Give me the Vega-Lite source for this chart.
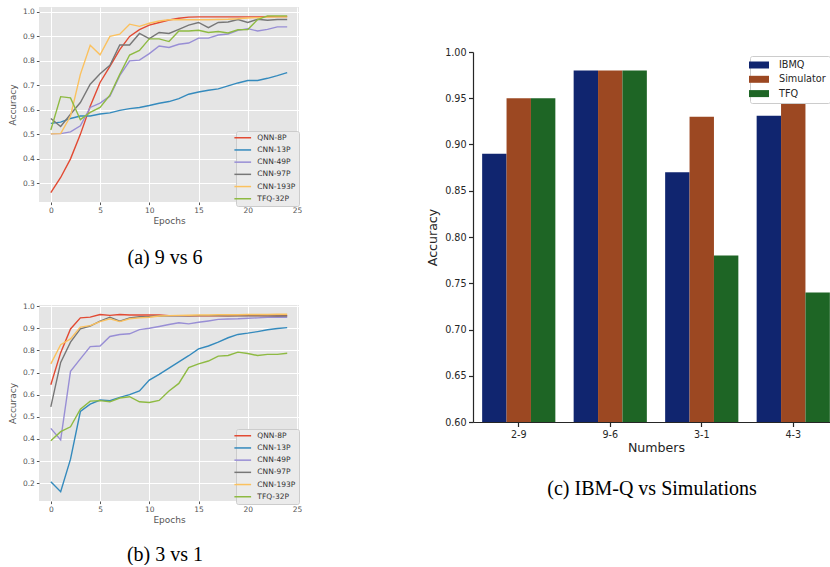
{
  "$schema": "https://vega.github.io/schema/vega-lite/v6.json",
  "background": "white",
  "padding": {"left": 8, "top": 7, "right": -7, "bottom": 0},
  "config": {
    "font": "DejaVu Sans",
    "title": {"font": "Liberation Serif", "fontSize": 20, "fontWeight": "normal", "color": "#000000", "orient": "bottom", "anchor": "middle"}
  },
  "datasets": {
    "a": [
      {"Model":"QNN-8P","Epoch":0,"Accuracy":0.262},{"Model":"QNN-8P","Epoch":1,"Accuracy":0.324},{"Model":"QNN-8P","Epoch":2,"Accuracy":0.40},{"Model":"QNN-8P","Epoch":3,"Accuracy":0.50},{"Model":"QNN-8P","Epoch":4,"Accuracy":0.615},{"Model":"QNN-8P","Epoch":5,"Accuracy":0.712},{"Model":"QNN-8P","Epoch":6,"Accuracy":0.778},{"Model":"QNN-8P","Epoch":7,"Accuracy":0.846},{"Model":"QNN-8P","Epoch":8,"Accuracy":0.90},{"Model":"QNN-8P","Epoch":9,"Accuracy":0.928},{"Model":"QNN-8P","Epoch":10,"Accuracy":0.946},{"Model":"QNN-8P","Epoch":11,"Accuracy":0.957},{"Model":"QNN-8P","Epoch":12,"Accuracy":0.967},{"Model":"QNN-8P","Epoch":13,"Accuracy":0.974},{"Model":"QNN-8P","Epoch":14,"Accuracy":0.979},{"Model":"QNN-8P","Epoch":15,"Accuracy":0.98},{"Model":"QNN-8P","Epoch":16,"Accuracy":0.98},{"Model":"QNN-8P","Epoch":17,"Accuracy":0.98},{"Model":"QNN-8P","Epoch":18,"Accuracy":0.98},{"Model":"QNN-8P","Epoch":19,"Accuracy":0.98},{"Model":"QNN-8P","Epoch":20,"Accuracy":0.98},{"Model":"QNN-8P","Epoch":21,"Accuracy":0.98},{"Model":"QNN-8P","Epoch":22,"Accuracy":0.981},{"Model":"QNN-8P","Epoch":23,"Accuracy":0.981},{"Model":"QNN-8P","Epoch":24,"Accuracy":0.981},
      {"Model":"CNN-13P","Epoch":0,"Accuracy":0.545},{"Model":"CNN-13P","Epoch":1,"Accuracy":0.55},{"Model":"CNN-13P","Epoch":2,"Accuracy":0.565},{"Model":"CNN-13P","Epoch":3,"Accuracy":0.575},{"Model":"CNN-13P","Epoch":4,"Accuracy":0.575},{"Model":"CNN-13P","Epoch":5,"Accuracy":0.583},{"Model":"CNN-13P","Epoch":6,"Accuracy":0.588},{"Model":"CNN-13P","Epoch":7,"Accuracy":0.598},{"Model":"CNN-13P","Epoch":8,"Accuracy":0.605},{"Model":"CNN-13P","Epoch":9,"Accuracy":0.61},{"Model":"CNN-13P","Epoch":10,"Accuracy":0.618},{"Model":"CNN-13P","Epoch":11,"Accuracy":0.627},{"Model":"CNN-13P","Epoch":12,"Accuracy":0.634},{"Model":"CNN-13P","Epoch":13,"Accuracy":0.646},{"Model":"CNN-13P","Epoch":14,"Accuracy":0.664},{"Model":"CNN-13P","Epoch":15,"Accuracy":0.673},{"Model":"CNN-13P","Epoch":16,"Accuracy":0.68},{"Model":"CNN-13P","Epoch":17,"Accuracy":0.686},{"Model":"CNN-13P","Epoch":18,"Accuracy":0.698},{"Model":"CNN-13P","Epoch":19,"Accuracy":0.71},{"Model":"CNN-13P","Epoch":20,"Accuracy":0.72},{"Model":"CNN-13P","Epoch":21,"Accuracy":0.72},{"Model":"CNN-13P","Epoch":22,"Accuracy":0.729},{"Model":"CNN-13P","Epoch":23,"Accuracy":0.74},{"Model":"CNN-13P","Epoch":24,"Accuracy":0.752},
      {"Model":"CNN-49P","Epoch":0,"Accuracy":0.502},{"Model":"CNN-49P","Epoch":1,"Accuracy":0.503},{"Model":"CNN-49P","Epoch":2,"Accuracy":0.51},{"Model":"CNN-49P","Epoch":3,"Accuracy":0.535},{"Model":"CNN-49P","Epoch":4,"Accuracy":0.61},{"Model":"CNN-49P","Epoch":5,"Accuracy":0.628},{"Model":"CNN-49P","Epoch":6,"Accuracy":0.656},{"Model":"CNN-49P","Epoch":7,"Accuracy":0.74},{"Model":"CNN-49P","Epoch":8,"Accuracy":0.80},{"Model":"CNN-49P","Epoch":9,"Accuracy":0.803},{"Model":"CNN-49P","Epoch":10,"Accuracy":0.83},{"Model":"CNN-49P","Epoch":11,"Accuracy":0.861},{"Model":"CNN-49P","Epoch":12,"Accuracy":0.855},{"Model":"CNN-49P","Epoch":13,"Accuracy":0.868},{"Model":"CNN-49P","Epoch":14,"Accuracy":0.873},{"Model":"CNN-49P","Epoch":15,"Accuracy":0.893},{"Model":"CNN-49P","Epoch":16,"Accuracy":0.893},{"Model":"CNN-49P","Epoch":17,"Accuracy":0.906},{"Model":"CNN-49P","Epoch":18,"Accuracy":0.91},{"Model":"CNN-49P","Epoch":19,"Accuracy":0.925},{"Model":"CNN-49P","Epoch":20,"Accuracy":0.932},{"Model":"CNN-49P","Epoch":21,"Accuracy":0.922},{"Model":"CNN-49P","Epoch":22,"Accuracy":0.929},{"Model":"CNN-49P","Epoch":23,"Accuracy":0.939},{"Model":"CNN-49P","Epoch":24,"Accuracy":0.939},
      {"Model":"CNN-97P","Epoch":0,"Accuracy":0.565},{"Model":"CNN-97P","Epoch":1,"Accuracy":0.532},{"Model":"CNN-97P","Epoch":2,"Accuracy":0.582},{"Model":"CNN-97P","Epoch":3,"Accuracy":0.63},{"Model":"CNN-97P","Epoch":4,"Accuracy":0.705},{"Model":"CNN-97P","Epoch":5,"Accuracy":0.748},{"Model":"CNN-97P","Epoch":6,"Accuracy":0.782},{"Model":"CNN-97P","Epoch":7,"Accuracy":0.865},{"Model":"CNN-97P","Epoch":8,"Accuracy":0.865},{"Model":"CNN-97P","Epoch":9,"Accuracy":0.912},{"Model":"CNN-97P","Epoch":10,"Accuracy":0.891},{"Model":"CNN-97P","Epoch":11,"Accuracy":0.916},{"Model":"CNN-97P","Epoch":12,"Accuracy":0.912},{"Model":"CNN-97P","Epoch":13,"Accuracy":0.929},{"Model":"CNN-97P","Epoch":14,"Accuracy":0.946},{"Model":"CNN-97P","Epoch":15,"Accuracy":0.957},{"Model":"CNN-97P","Epoch":16,"Accuracy":0.936},{"Model":"CNN-97P","Epoch":17,"Accuracy":0.957},{"Model":"CNN-97P","Epoch":18,"Accuracy":0.959},{"Model":"CNN-97P","Epoch":19,"Accuracy":0.969},{"Model":"CNN-97P","Epoch":20,"Accuracy":0.957},{"Model":"CNN-97P","Epoch":21,"Accuracy":0.97},{"Model":"CNN-97P","Epoch":22,"Accuracy":0.966},{"Model":"CNN-97P","Epoch":23,"Accuracy":0.969},{"Model":"CNN-97P","Epoch":24,"Accuracy":0.969},
      {"Model":"CNN-193P","Epoch":0,"Accuracy":0.502},{"Model":"CNN-193P","Epoch":1,"Accuracy":0.503},{"Model":"CNN-193P","Epoch":2,"Accuracy":0.575},{"Model":"CNN-193P","Epoch":3,"Accuracy":0.745},{"Model":"CNN-193P","Epoch":4,"Accuracy":0.864},{"Model":"CNN-193P","Epoch":5,"Accuracy":0.825},{"Model":"CNN-193P","Epoch":6,"Accuracy":0.90},{"Model":"CNN-193P","Epoch":7,"Accuracy":0.909},{"Model":"CNN-193P","Epoch":8,"Accuracy":0.95},{"Model":"CNN-193P","Epoch":9,"Accuracy":0.941},{"Model":"CNN-193P","Epoch":10,"Accuracy":0.954},{"Model":"CNN-193P","Epoch":11,"Accuracy":0.963},{"Model":"CNN-193P","Epoch":12,"Accuracy":0.968},{"Model":"CNN-193P","Epoch":13,"Accuracy":0.968},{"Model":"CNN-193P","Epoch":14,"Accuracy":0.968},{"Model":"CNN-193P","Epoch":15,"Accuracy":0.968},{"Model":"CNN-193P","Epoch":16,"Accuracy":0.968},{"Model":"CNN-193P","Epoch":17,"Accuracy":0.969},{"Model":"CNN-193P","Epoch":18,"Accuracy":0.97},{"Model":"CNN-193P","Epoch":19,"Accuracy":0.972},{"Model":"CNN-193P","Epoch":20,"Accuracy":0.975},{"Model":"CNN-193P","Epoch":21,"Accuracy":0.977},{"Model":"CNN-193P","Epoch":22,"Accuracy":0.979},{"Model":"CNN-193P","Epoch":23,"Accuracy":0.98},{"Model":"CNN-193P","Epoch":24,"Accuracy":0.98},
      {"Model":"TFQ-32P","Epoch":0,"Accuracy":0.518},{"Model":"TFQ-32P","Epoch":1,"Accuracy":0.654},{"Model":"TFQ-32P","Epoch":2,"Accuracy":0.649},{"Model":"TFQ-32P","Epoch":3,"Accuracy":0.56},{"Model":"TFQ-32P","Epoch":4,"Accuracy":0.59},{"Model":"TFQ-32P","Epoch":5,"Accuracy":0.61},{"Model":"TFQ-32P","Epoch":6,"Accuracy":0.66},{"Model":"TFQ-32P","Epoch":7,"Accuracy":0.745},{"Model":"TFQ-32P","Epoch":8,"Accuracy":0.824},{"Model":"TFQ-32P","Epoch":9,"Accuracy":0.843},{"Model":"TFQ-32P","Epoch":10,"Accuracy":0.89},{"Model":"TFQ-32P","Epoch":11,"Accuracy":0.89},{"Model":"TFQ-32P","Epoch":12,"Accuracy":0.879},{"Model":"TFQ-32P","Epoch":13,"Accuracy":0.922},{"Model":"TFQ-32P","Epoch":14,"Accuracy":0.922},{"Model":"TFQ-32P","Epoch":15,"Accuracy":0.925},{"Model":"TFQ-32P","Epoch":16,"Accuracy":0.916},{"Model":"TFQ-32P","Epoch":17,"Accuracy":0.92},{"Model":"TFQ-32P","Epoch":18,"Accuracy":0.914},{"Model":"TFQ-32P","Epoch":19,"Accuracy":0.927},{"Model":"TFQ-32P","Epoch":20,"Accuracy":0.928},{"Model":"TFQ-32P","Epoch":21,"Accuracy":0.969},{"Model":"TFQ-32P","Epoch":22,"Accuracy":0.984},{"Model":"TFQ-32P","Epoch":23,"Accuracy":0.984},{"Model":"TFQ-32P","Epoch":24,"Accuracy":0.984}
    ],
    "b": [
      {"Model":"QNN-8P","Epoch":0,"Accuracy":0.645},{"Model":"QNN-8P","Epoch":1,"Accuracy":0.79},{"Model":"QNN-8P","Epoch":2,"Accuracy":0.897},{"Model":"QNN-8P","Epoch":3,"Accuracy":0.947},{"Model":"QNN-8P","Epoch":4,"Accuracy":0.95},{"Model":"QNN-8P","Epoch":5,"Accuracy":0.962},{"Model":"QNN-8P","Epoch":6,"Accuracy":0.958},{"Model":"QNN-8P","Epoch":7,"Accuracy":0.962},{"Model":"QNN-8P","Epoch":8,"Accuracy":0.96},{"Model":"QNN-8P","Epoch":9,"Accuracy":0.96},{"Model":"QNN-8P","Epoch":10,"Accuracy":0.96},{"Model":"QNN-8P","Epoch":11,"Accuracy":0.96},{"Model":"QNN-8P","Epoch":12,"Accuracy":0.957},{"Model":"QNN-8P","Epoch":13,"Accuracy":0.957},{"Model":"QNN-8P","Epoch":14,"Accuracy":0.956},{"Model":"QNN-8P","Epoch":15,"Accuracy":0.956},{"Model":"QNN-8P","Epoch":16,"Accuracy":0.956},{"Model":"QNN-8P","Epoch":17,"Accuracy":0.956},{"Model":"QNN-8P","Epoch":18,"Accuracy":0.956},{"Model":"QNN-8P","Epoch":19,"Accuracy":0.957},{"Model":"QNN-8P","Epoch":20,"Accuracy":0.957},{"Model":"QNN-8P","Epoch":21,"Accuracy":0.957},{"Model":"QNN-8P","Epoch":22,"Accuracy":0.956},{"Model":"QNN-8P","Epoch":23,"Accuracy":0.955},{"Model":"QNN-8P","Epoch":24,"Accuracy":0.957},
      {"Model":"CNN-13P","Epoch":0,"Accuracy":0.207},{"Model":"CNN-13P","Epoch":1,"Accuracy":0.162},{"Model":"CNN-13P","Epoch":2,"Accuracy":0.309},{"Model":"CNN-13P","Epoch":3,"Accuracy":0.524},{"Model":"CNN-13P","Epoch":4,"Accuracy":0.557},{"Model":"CNN-13P","Epoch":5,"Accuracy":0.576},{"Model":"CNN-13P","Epoch":6,"Accuracy":0.573},{"Model":"CNN-13P","Epoch":7,"Accuracy":0.588},{"Model":"CNN-13P","Epoch":8,"Accuracy":0.60},{"Model":"CNN-13P","Epoch":9,"Accuracy":0.617},{"Model":"CNN-13P","Epoch":10,"Accuracy":0.666},{"Model":"CNN-13P","Epoch":11,"Accuracy":0.692},{"Model":"CNN-13P","Epoch":12,"Accuracy":0.72},{"Model":"CNN-13P","Epoch":13,"Accuracy":0.748},{"Model":"CNN-13P","Epoch":14,"Accuracy":0.776},{"Model":"CNN-13P","Epoch":15,"Accuracy":0.807},{"Model":"CNN-13P","Epoch":16,"Accuracy":0.82},{"Model":"CNN-13P","Epoch":17,"Accuracy":0.837},{"Model":"CNN-13P","Epoch":18,"Accuracy":0.857},{"Model":"CNN-13P","Epoch":19,"Accuracy":0.872},{"Model":"CNN-13P","Epoch":20,"Accuracy":0.878},{"Model":"CNN-13P","Epoch":21,"Accuracy":0.885},{"Model":"CNN-13P","Epoch":22,"Accuracy":0.893},{"Model":"CNN-13P","Epoch":23,"Accuracy":0.899},{"Model":"CNN-13P","Epoch":24,"Accuracy":0.903},
      {"Model":"CNN-49P","Epoch":0,"Accuracy":0.448},{"Model":"CNN-49P","Epoch":1,"Accuracy":0.396},{"Model":"CNN-49P","Epoch":2,"Accuracy":0.706},{"Model":"CNN-49P","Epoch":3,"Accuracy":0.762},{"Model":"CNN-49P","Epoch":4,"Accuracy":0.817},{"Model":"CNN-49P","Epoch":5,"Accuracy":0.82},{"Model":"CNN-49P","Epoch":6,"Accuracy":0.863},{"Model":"CNN-49P","Epoch":7,"Accuracy":0.872},{"Model":"CNN-49P","Epoch":8,"Accuracy":0.875},{"Model":"CNN-49P","Epoch":9,"Accuracy":0.894},{"Model":"CNN-49P","Epoch":10,"Accuracy":0.90},{"Model":"CNN-49P","Epoch":11,"Accuracy":0.908},{"Model":"CNN-49P","Epoch":12,"Accuracy":0.917},{"Model":"CNN-49P","Epoch":13,"Accuracy":0.925},{"Model":"CNN-49P","Epoch":14,"Accuracy":0.92},{"Model":"CNN-49P","Epoch":15,"Accuracy":0.927},{"Model":"CNN-49P","Epoch":16,"Accuracy":0.933},{"Model":"CNN-49P","Epoch":17,"Accuracy":0.94},{"Model":"CNN-49P","Epoch":18,"Accuracy":0.942},{"Model":"CNN-49P","Epoch":19,"Accuracy":0.943},{"Model":"CNN-49P","Epoch":20,"Accuracy":0.945},{"Model":"CNN-49P","Epoch":21,"Accuracy":0.947},{"Model":"CNN-49P","Epoch":22,"Accuracy":0.95},{"Model":"CNN-49P","Epoch":23,"Accuracy":0.95},{"Model":"CNN-49P","Epoch":24,"Accuracy":0.95},
      {"Model":"CNN-97P","Epoch":0,"Accuracy":0.545},{"Model":"CNN-97P","Epoch":1,"Accuracy":0.746},{"Model":"CNN-97P","Epoch":2,"Accuracy":0.837},{"Model":"CNN-97P","Epoch":3,"Accuracy":0.897},{"Model":"CNN-97P","Epoch":4,"Accuracy":0.91},{"Model":"CNN-97P","Epoch":5,"Accuracy":0.932},{"Model":"CNN-97P","Epoch":6,"Accuracy":0.95},{"Model":"CNN-97P","Epoch":7,"Accuracy":0.932},{"Model":"CNN-97P","Epoch":8,"Accuracy":0.947},{"Model":"CNN-97P","Epoch":9,"Accuracy":0.952},{"Model":"CNN-97P","Epoch":10,"Accuracy":0.953},{"Model":"CNN-97P","Epoch":11,"Accuracy":0.955},{"Model":"CNN-97P","Epoch":12,"Accuracy":0.956},{"Model":"CNN-97P","Epoch":13,"Accuracy":0.956},{"Model":"CNN-97P","Epoch":14,"Accuracy":0.956},{"Model":"CNN-97P","Epoch":15,"Accuracy":0.957},{"Model":"CNN-97P","Epoch":16,"Accuracy":0.957},{"Model":"CNN-97P","Epoch":17,"Accuracy":0.957},{"Model":"CNN-97P","Epoch":18,"Accuracy":0.956},{"Model":"CNN-97P","Epoch":19,"Accuracy":0.956},{"Model":"CNN-97P","Epoch":20,"Accuracy":0.956},{"Model":"CNN-97P","Epoch":21,"Accuracy":0.956},{"Model":"CNN-97P","Epoch":22,"Accuracy":0.956},{"Model":"CNN-97P","Epoch":23,"Accuracy":0.955},{"Model":"CNN-97P","Epoch":24,"Accuracy":0.955},
      {"Model":"CNN-193P","Epoch":0,"Accuracy":0.739},{"Model":"CNN-193P","Epoch":1,"Accuracy":0.826},{"Model":"CNN-193P","Epoch":2,"Accuracy":0.852},{"Model":"CNN-193P","Epoch":3,"Accuracy":0.905},{"Model":"CNN-193P","Epoch":4,"Accuracy":0.912},{"Model":"CNN-193P","Epoch":5,"Accuracy":0.93},{"Model":"CNN-193P","Epoch":6,"Accuracy":0.943},{"Model":"CNN-193P","Epoch":7,"Accuracy":0.93},{"Model":"CNN-193P","Epoch":8,"Accuracy":0.943},{"Model":"CNN-193P","Epoch":9,"Accuracy":0.947},{"Model":"CNN-193P","Epoch":10,"Accuracy":0.95},{"Model":"CNN-193P","Epoch":11,"Accuracy":0.955},{"Model":"CNN-193P","Epoch":12,"Accuracy":0.957},{"Model":"CNN-193P","Epoch":13,"Accuracy":0.958},{"Model":"CNN-193P","Epoch":14,"Accuracy":0.959},{"Model":"CNN-193P","Epoch":15,"Accuracy":0.96},{"Model":"CNN-193P","Epoch":16,"Accuracy":0.96},{"Model":"CNN-193P","Epoch":17,"Accuracy":0.961},{"Model":"CNN-193P","Epoch":18,"Accuracy":0.961},{"Model":"CNN-193P","Epoch":19,"Accuracy":0.961},{"Model":"CNN-193P","Epoch":20,"Accuracy":0.962},{"Model":"CNN-193P","Epoch":21,"Accuracy":0.962},{"Model":"CNN-193P","Epoch":22,"Accuracy":0.962},{"Model":"CNN-193P","Epoch":23,"Accuracy":0.963},{"Model":"CNN-193P","Epoch":24,"Accuracy":0.963},
      {"Model":"TFQ-32P","Epoch":0,"Accuracy":0.392},{"Model":"TFQ-32P","Epoch":1,"Accuracy":0.433},{"Model":"TFQ-32P","Epoch":2,"Accuracy":0.455},{"Model":"TFQ-32P","Epoch":3,"Accuracy":0.535},{"Model":"TFQ-32P","Epoch":4,"Accuracy":0.571},{"Model":"TFQ-32P","Epoch":5,"Accuracy":0.573},{"Model":"TFQ-32P","Epoch":6,"Accuracy":0.568},{"Model":"TFQ-32P","Epoch":7,"Accuracy":0.585},{"Model":"TFQ-32P","Epoch":8,"Accuracy":0.591},{"Model":"TFQ-32P","Epoch":9,"Accuracy":0.568},{"Model":"TFQ-32P","Epoch":10,"Accuracy":0.565},{"Model":"TFQ-32P","Epoch":11,"Accuracy":0.574},{"Model":"TFQ-32P","Epoch":12,"Accuracy":0.617},{"Model":"TFQ-32P","Epoch":13,"Accuracy":0.651},{"Model":"TFQ-32P","Epoch":14,"Accuracy":0.722},{"Model":"TFQ-32P","Epoch":15,"Accuracy":0.739},{"Model":"TFQ-32P","Epoch":16,"Accuracy":0.752},{"Model":"TFQ-32P","Epoch":17,"Accuracy":0.774},{"Model":"TFQ-32P","Epoch":18,"Accuracy":0.777},{"Model":"TFQ-32P","Epoch":19,"Accuracy":0.792},{"Model":"TFQ-32P","Epoch":20,"Accuracy":0.786},{"Model":"TFQ-32P","Epoch":21,"Accuracy":0.777},{"Model":"TFQ-32P","Epoch":22,"Accuracy":0.782},{"Model":"TFQ-32P","Epoch":23,"Accuracy":0.782},{"Model":"TFQ-32P","Epoch":24,"Accuracy":0.787}
    ],
    "c": [
      {"Numbers":"2-9","Source":"IBMQ","Accuracy":0.89},{"Numbers":"2-9","Source":"Simulator","Accuracy":0.95},{"Numbers":"2-9","Source":"TFQ","Accuracy":0.95},
      {"Numbers":"9-6","Source":"IBMQ","Accuracy":0.98},{"Numbers":"9-6","Source":"Simulator","Accuracy":0.98},{"Numbers":"9-6","Source":"TFQ","Accuracy":0.98},
      {"Numbers":"3-1","Source":"IBMQ","Accuracy":0.87},{"Numbers":"3-1","Source":"Simulator","Accuracy":0.93},{"Numbers":"3-1","Source":"TFQ","Accuracy":0.78},
      {"Numbers":"4-3","Source":"IBMQ","Accuracy":0.931},{"Numbers":"4-3","Source":"Simulator","Accuracy":0.95},{"Numbers":"4-3","Source":"TFQ","Accuracy":0.74}
    ]
  },
  "spacing": 124,
  "resolve": {"scale": {"color": "independent"}, "legend": {"color": "independent"}},
  "hconcat": [
    {
      "spacing": 34,
      "resolve": {"scale": {"color": "independent"}, "legend": {"color": "independent"}},
      "vconcat": [
        {
          "data": {"name": "a"},
          "width": 260, "height": 195,
          "view": {"fill": "#E5E5E5", "stroke": null},
          "title": {"text": "(a) 9 vs 6", "offset": 22, "dx": -4},
          "mark": {"type": "line", "strokeWidth": 1.4},
          "encoding": {
            "x": {"field": "Epoch", "type": "quantitative", "scale": {"domain": [-1.2, 25.2], "nice": false, "zero": false},
              "axis": {"values": [0, 5, 10, 15, 20, 25], "title": "Epochs", "grid": true, "gridColor": "#ffffff", "gridWidth": 1, "gridOpacity": 1, "domain": false, "tickColor": "#555555", "tickSize": 2.6, "labelFontSize": 7.5, "labelColor": "#555555", "labelPadding": 2, "titleFontSize": 9, "titleColor": "#555555", "titleFontWeight": "normal", "titlePadding": 2.4}},
            "y": {"field": "Accuracy", "type": "quantitative", "scale": {"domain": [0.2238, 1.0202], "nice": false, "zero": false},
              "axis": {"values": [0.3, 0.4, 0.5, 0.6, 0.7, 0.8, 0.9, 1.0], "format": ".1f", "title": "Accuracy", "grid": true, "gridColor": "#ffffff", "gridWidth": 1, "gridOpacity": 1, "domain": false, "tickColor": "#555555", "tickSize": 2.6, "labelFontSize": 7.5, "labelColor": "#555555", "labelPadding": 2, "titleFontSize": 9, "titleColor": "#555555", "titleFontWeight": "normal", "titlePadding": 4.5}},
            "color": {"field": "Model", "type": "nominal",
              "scale": {"domain": ["QNN-8P", "CNN-13P", "CNN-49P", "CNN-97P", "CNN-193P", "TFQ-32P"], "range": ["#E24A33", "#348ABD", "#988ED5", "#777777", "#FBC15E", "#8EBA42"]},
              "legend": {"orient": "none", "legendX": 197, "legendY": 124, "title": null, "symbolType": "M-3.34,0H3.34", "symbolSize": 25, "symbolStrokeWidth": 1.5, "labelFontSize": 7.5, "labelColor": "#333333", "labelOffset": 10.85, "rowPadding": 3.2, "padding": 3, "fillColor": "#ebebeb", "strokeColor": "#cccccc", "cornerRadius": 2}}
          }
        },
        {
          "data": {"name": "b"},
          "width": 260, "height": 196,
          "view": {"fill": "#E5E5E5", "stroke": null},
          "title": {"text": "(b) 3 vs 1", "offset": 20, "dx": -4},
          "mark": {"type": "line", "strokeWidth": 1.4},
          "encoding": {
            "x": {"field": "Epoch", "type": "quantitative", "scale": {"domain": [-1.2, 25.2], "nice": false, "zero": false},
              "axis": {"values": [0, 5, 10, 15, 20, 25], "title": "Epochs", "grid": true, "gridColor": "#ffffff", "gridWidth": 1, "gridOpacity": 1, "domain": false, "tickColor": "#555555", "tickSize": 2.6, "labelFontSize": 7.5, "labelColor": "#555555", "labelPadding": 2, "titleFontSize": 9, "titleColor": "#555555", "titleFontWeight": "normal", "titlePadding": 2.4}},
            "y": {"field": "Accuracy", "type": "quantitative", "scale": {"domain": [0.12, 1.005], "nice": false, "zero": false},
              "axis": {"values": [0.2, 0.3, 0.4, 0.5, 0.6, 0.7, 0.8, 0.9, 1.0], "format": ".1f", "title": "Accuracy", "grid": true, "gridColor": "#ffffff", "gridWidth": 1, "gridOpacity": 1, "domain": false, "tickColor": "#555555", "tickSize": 2.6, "labelFontSize": 7.5, "labelColor": "#555555", "labelPadding": 2, "titleFontSize": 9, "titleColor": "#555555", "titleFontWeight": "normal", "titlePadding": 4.5}},
            "color": {"field": "Model", "type": "nominal",
              "scale": {"domain": ["QNN-8P", "CNN-13P", "CNN-49P", "CNN-97P", "CNN-193P", "TFQ-32P"], "range": ["#E24A33", "#348ABD", "#988ED5", "#777777", "#FBC15E", "#8EBA42"]},
              "legend": {"orient": "none", "legendX": 197, "legendY": 124, "title": null, "symbolType": "M-3.34,0H3.34", "symbolSize": 25, "symbolStrokeWidth": 1.5, "labelFontSize": 7.5, "labelColor": "#333333", "labelOffset": 10.85, "rowPadding": 3.2, "padding": 3, "fillColor": "#ebebeb", "strokeColor": "#cccccc", "cornerRadius": 2}}
          }
        }
      ]
    },
    {
      "data": {"name": "c"},
      "width": 366, "height": 415,
      "view": {"fill": null, "stroke": null},
      "title": {"text": "(c) IBM-Q vs Simulations", "offset": 25, "dx": -4},
      "mark": {"type": "bar"},
      "encoding": {
        "x": {"field": "Numbers", "type": "nominal", "sort": ["2-9", "9-6", "3-1", "4-3"], "scale": {"paddingInner": 0.2, "paddingOuter": 0.1},
          "axis": {"title": "Numbers", "labelAngle": 0, "labelFontSize": 9.6, "titleFontSize": 12.6, "labelColor": "#262626", "titleColor": "#262626", "titleFontWeight": "normal", "domainColor": "#262626", "domainWidth": 1.2, "tickColor": "#262626", "tickWidth": 1.2, "tickSize": 4.5, "labelPadding": 2.5, "titlePadding": 2.5, "grid": false}},
        "xOffset": {"field": "Source", "type": "nominal", "sort": ["IBMQ", "Simulator", "TFQ"], "scale": {"paddingInner": 0, "paddingOuter": 0}},
        "y": {"field": "Accuracy", "type": "quantitative", "scale": {"domain": [0.6, 1.0], "nice": false, "zero": false, "range": [415, 45]},
          "axis": {"title": "Accuracy", "values": [0.6, 0.65, 0.7, 0.75, 0.8, 0.85, 0.9, 0.95, 1.0], "format": ".2f", "labelFontSize": 9.6, "titleFontSize": 12.6, "labelColor": "#262626", "titleColor": "#262626", "titleFontWeight": "normal", "domainColor": "#262626", "domainWidth": 1.2, "tickColor": "#262626", "tickWidth": 1.2, "tickSize": 4.5, "labelPadding": 2.5, "titlePadding": 5, "grid": false}},
        "y2": {"datum": 0.6},
        "color": {"field": "Source", "type": "nominal",
          "scale": {"domain": ["IBMQ", "Simulator", "TFQ"], "range": ["#10256f", "#9c4822", "#1e6525"]},
          "legend": {"orient": "none", "legendX": 277, "legendY": 49, "title": null, "symbolType": "M-2,-0.7H2V0.7H-2Z", "symbolSize": 100, "symbolStrokeWidth": 0, "symbolOpacity": 1, "labelFontSize": 9.7, "labelColor": "#262626", "labelOffset": 15, "rowPadding": 4.3, "padding": 4, "fillColor": "#ffffff", "strokeColor": "#cccccc", "cornerRadius": 2}}
      }
    }
  ]
}
